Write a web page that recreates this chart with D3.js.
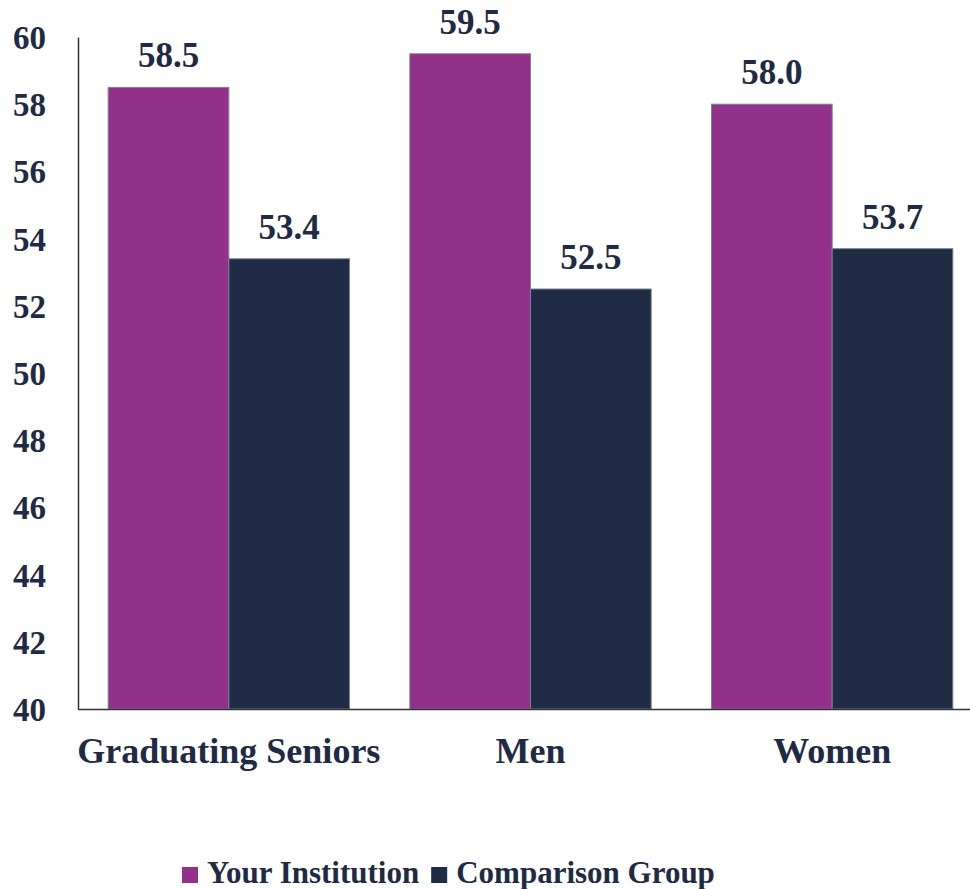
<!DOCTYPE html>
<html><head><meta charset="utf-8">
<script src="https://cdn.jsdelivr.net/npm/d3@7"></script>
<style>body{margin:0;background:#fff}svg{display:block}text{font-family:"Liberation Serif","Times New Roman",serif;font-weight:bold;fill:#1F2A44}</style>
</head><body>
<script>
const categories = ["Graduating Seniors","Men","Women"];
const seriesNames = ["Your Institution","Comparison Group"];
const yourInstitution = [58.5,59.5,58.0];
const comparisonGroup = [53.4,52.5,53.7];
const yTicks = [40,42,44,46,48,50,52,54,56,58,60];
const colors = ["#92308A","#202B45"];

(function(){
const W=970,H=889;
const svg=d3.select("body").append("svg").attr("width",W).attr("height",H);
const mLeft=78,mRight=983,mTop=37,mBottom=709;
const y=d3.scaleLinear().domain([40,60]).range([mBottom,mTop]);
const x=d3.scaleBand().domain(categories).range([mLeft,mRight]).paddingInner(0.2).paddingOuter(0.1);
const xs=d3.scaleBand().domain(seriesNames).range([0,x.bandwidth()]);
const data=categories.map((c,i)=>({c,vals:[yourInstitution[i],comparisonGroup[i]]}));

const g=svg.append("g");
data.forEach(d=>{
  d.vals.forEach((v,j)=>{
    g.append("rect").attr("x",x(d.c)+xs(seriesNames[j])).attr("y",y(v))
      .attr("width",xs.bandwidth()).attr("height",y(40)-y(v))
      .attr("fill",colors[j]).attr("stroke","#7d8294").attr("stroke-width",1);
    g.append("text").attr("x",x(d.c)+xs(seriesNames[j])+xs.bandwidth()/2).attr("y",y(v)-20)
      .attr("text-anchor","middle").style("font-size","35px").text(v.toFixed(1));
  });
});
const ya=svg.append("g").attr("transform",`translate(${mLeft},0)`)
  .call(d3.axisLeft(y).tickValues(yTicks).tickSize(0).tickPadding(32));
ya.select(".domain").attr("stroke","#333").attr("stroke-width",1.5);
ya.selectAll("text").style("font-size","33px").attr("fill","#1F2A44").attr("dy","0.35em");
const xa=svg.append("g").attr("transform",`translate(0,${mBottom})`)
  .call(d3.axisBottom(x).tickSize(0).tickPadding(0));
xa.select(".domain").attr("d",`M${mLeft},0.5H${W}`).attr("stroke","#333").attr("stroke-width",1.5);
xa.selectAll("text").style("font-size","36px").attr("fill","#1F2A44").attr("y",54).attr("dy",null);
const leg=svg.append("g").attr("transform","translate(182,883)");
let lx=0;
seriesNames.forEach((s,j)=>{
  leg.append("rect").attr("x",lx).attr("y",-16).attr("width",16).attr("height",16).attr("fill",colors[j]);
  const t=leg.append("text").attr("x",lx+25).attr("y",0).style("font-size","31px").text(s);
  lx+=25+t.node().getComputedTextLength()+12;
});
})();
</script>
</body></html>
